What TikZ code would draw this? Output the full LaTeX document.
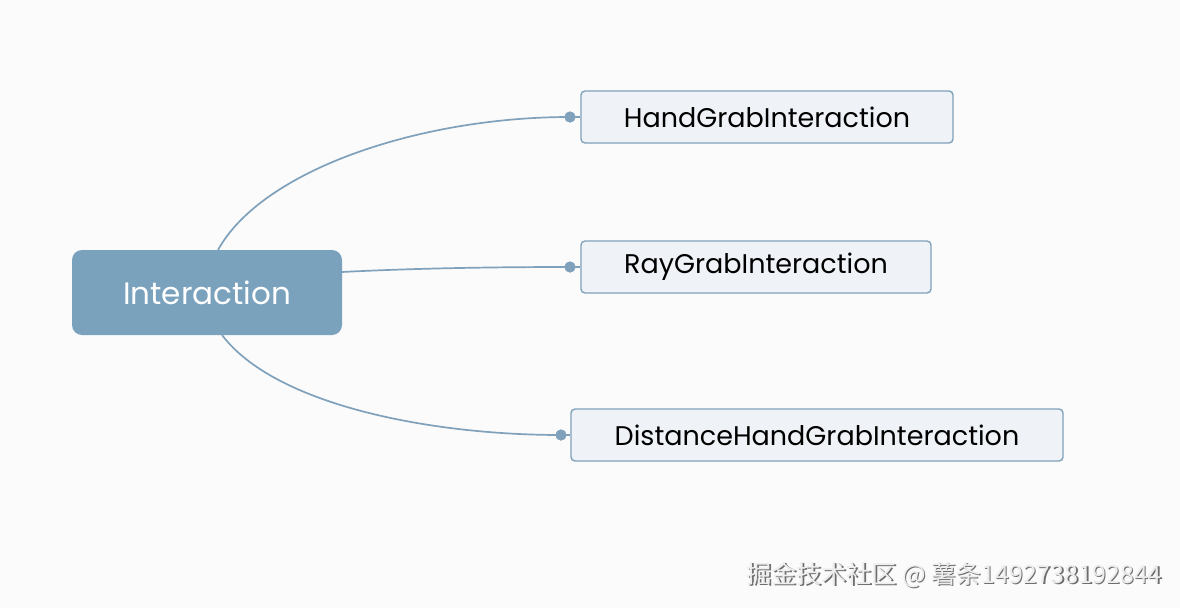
\documentclass[tikz,border=0pt]{standalone}
\usepackage{fontspec}
\setmainfont{Poppins}
\newfontfamily\cjk{Noto Sans CJK SC}
\definecolor{bg}{HTML}{FBFBFB}
\definecolor{rootfill}{HTML}{7BA2BD}
\definecolor{leaffill}{HTML}{EFF3F7}
\definecolor{edge}{HTML}{7FA1BB}
\definecolor{wm}{HTML}{EDEDED}
\definecolor{wmshadow}{HTML}{6E6E6E}
\tikzset{
  rootbox/.style={draw=none, fill=rootfill, rounded corners=10pt, text=white, font=\fontsize{31}{36}\selectfont, minimum width=270pt, minimum height=85pt, inner sep=0pt},
  leafbox/.style={draw=edge, line width=1.4pt, fill=leaffill, rounded corners=4pt, text=black, font=\fontsize{27}{32}\selectfont, minimum height=52pt, inner sep=0pt},
  link/.style={draw=edge, line width=1.7pt},
  dot/.style={circle, fill=edge, minimum size=11pt, inner sep=0pt},
}
\begin{document}
\begin{tikzpicture}[x=1pt,y=-1pt]
\fill[bg] (0,0) rectangle (1180,608);
\useasboundingbox (0,0) rectangle (1180,608);
\node[rootbox] (root) at (207,292.5) {Interaction};
\node[leafbox, minimum width=372pt] (c1) at (767,117) {HandGrabInteraction};
\node[leafbox, minimum width=350pt] (c2) at (756,267) {RayGrabInteraction};
\node[leafbox, minimum width=492pt] (c3) at (817,435) {DistanceHandGrabInteraction};
\node[dot] (d1) at (570,117) {};
\node[dot] (d2) at (570,267) {};
\node[dot] (d3) at (561,435) {};
\coordinate (r1) at (218,250);
\coordinate (r2) at (342,272);
\coordinate (r3) at (222,335);
\draw[link] (r1) .. controls (262,170) and (420,117) .. (d1.center);
\draw[link] (r2) .. controls (420,268) and (500,267) .. (d2.center);
\draw[link] (r3) .. controls (275,405) and (430,435) .. (d3.center);
\draw[link] (d1.center) -- (c1.west);
\draw[link] (d2.center) -- (c2.west);
\draw[link] (d3.center) -- (c3.west);
\node[dot] at (d1) {};
\node[dot] at (d2) {};
\node[dot] at (d3) {};
\node[anchor=east, text=wmshadow, font=\cjk\fontsize{25}{30}\selectfont, inner sep=0pt] (wms) at (1163.5,576.5) {掘金技术社区 @ 薯条1492738192844};
\node[anchor=east, text=wm, font=\cjk\fontsize{25}{30}\selectfont, inner sep=0pt] (wmt) at (1162,575) {掘金技术社区 @ 薯条1492738192844};
\end{tikzpicture}
\end{document}
